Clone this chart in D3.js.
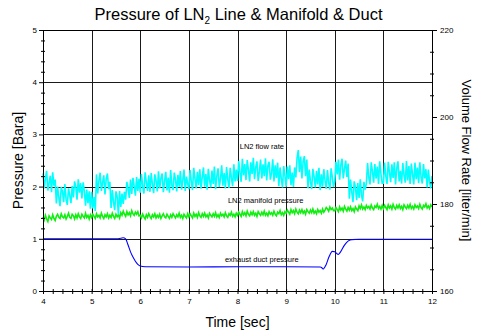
<!DOCTYPE html>
<html>
<head>
<meta charset="utf-8">
<script src="https://cdn.jsdelivr.net/npm/d3@7"></script>
<style>
  body { margin: 0; background: #fff; }
  svg text { font-family: "Liberation Sans", Arial, sans-serif; fill: #000; }
</style>
</head>
<body>
<div id="chart"></div>
<script>
(function () {
  // time axis: samples every 0.025 s from 4 to 12 s
  const T0 = 4;
  const DT = 0.025;

  // LN2 flow rate [liter/min], right axis
  const flowRate = [
    187.0, 183.6, 185.9, 187.6, 183.1, 184.8, 186.5, 182.7, 187.3, 184.2, 185.6,
    180.1, 184.0, 181.6, 179.5, 183.9, 182.9, 180.4, 184.6, 181.0, 179.8, 183.6, 182.0, 180.2, 184.1,
    181.5, 185.2, 183.9, 181.0, 185.7, 182.6, 184.8, 181.3, 185.0, 183.0,
    179.6, 183.3, 180.2, 182.9, 178.9,
    // 5 s
    182.8, 179.0, 181.6, 178.4,
    186.8, 182.4, 185.3, 187.2, 183.0, 184.9, 186.6, 182.2, 185.8, 187.0, 183.4, 185.1,
    179.1, 183.2, 180.5, 178.6, 182.9, 181.7, 177.6, 183.0, 179.3, 182.4, 180.0, 182.8,
    181.0, 185.1, 183.6, 181.4, 185.6, 182.3, 186.0, 184.1, 181.9, 186.2, 183.0, 185.8,
    // 6 s
    182.6, 186.9, 184.1, 182.4, 187.3, 185.0, 183.0, 186.6, 182.8, 187.1,
    184.6, 182.5, 186.8, 185.4, 182.9, 187.5, 183.6, 185.9, 187.0, 182.7,
    185.2, 187.4, 183.1, 186.1, 182.6, 187.8, 184.3, 183.2, 187.2, 185.6,
    182.9, 186.7, 184.0, 187.6, 183.3, 185.5, 187.9, 183.0, 186.3, 184.7,
    // 7 s
    183.4, 187.8, 185.1, 183.2, 188.3, 185.9, 183.6, 187.4, 184.3, 188.0,
    183.5, 186.2, 188.4, 184.0, 186.9, 183.3, 188.1, 185.4, 183.8, 187.7,
    184.6, 188.6, 183.4, 186.4, 188.2, 183.9, 185.8, 188.9, 184.2, 187.1,
    183.6, 188.5, 185.6, 183.7, 188.3, 186.0, 184.1, 189.1, 185.2, 187.9,
    // 8 s
    185.3, 189.9, 187.2, 185.1, 190.4, 186.6, 189.2, 185.5, 190.1, 187.8,
    185.2, 189.6, 186.9, 190.6, 185.7, 188.4, 189.8, 185.3, 187.5, 190.2,
    185.9, 189.1, 186.4, 190.5, 185.4, 188.8, 189.7, 185.6, 187.1, 190.3,
    185.2, 188.9, 186.0, 189.5,
    184.1, 188.4, 185.9, 183.8, 188.7, 186.5,
    // 9 s
    184.0, 188.6, 185.7, 188.9, 184.3, 187.2, 183.9, 188.4,
    186.1, 190.6, 192.4, 187.3, 190.9, 185.9, 189.8, 191.0, 186.4, 190.2,
    183.6, 187.9, 185.2, 183.4, 188.1, 186.3, 183.8, 187.6, 184.5, 188.3,
    183.2, 186.8, 184.0, 188.0, 185.4, 183.5, 187.8, 184.9, 183.3, 188.2, 186.1, 183.9,
    // 10 s
    185.3, 189.7, 186.8, 190.2, 185.6, 188.9, 190.4, 185.9, 188.1, 190.0, 186.2, 189.3,
    181.2, 185.6, 182.8, 180.4, 185.2, 183.9, 180.9, 184.8, 181.4, 185.7, 182.0, 180.6, 185.1, 183.3,
    184.7, 189.4, 186.2, 184.5, 189.6, 187.5, 184.9, 189.2, 185.8, 188.6, 184.6, 189.8, 186.9, 184.8,
    // 11 s
    184.8, 189.5, 186.4, 184.6, 189.7, 187.3, 185.0, 189.1, 186.0, 189.6,
    184.5, 188.2, 189.8, 185.2, 187.6, 184.7, 189.4, 186.6, 184.9, 189.9,
    185.4, 188.7, 184.6, 189.3, 186.8, 184.5, 189.5, 185.7, 188.4, 184.8,
    189.6, 186.2, 184.7, 189.2, 185.9, 188.0, 183.8, 187.9, 185.1, 183.6,
    // 12 s
    186.4,
  ];

  // LN2 manifold pressure [Bara], left axis
  const manifoldPressure = [
    1.42, 1.36, 1.45, 1.38, 1.33, 1.44, 1.40, 1.37, 1.46, 1.39, 1.35, 1.43,
    1.47, 1.41, 1.39, 1.48, 1.42, 1.40, 1.46, 1.38, 1.43, 1.49, 1.41, 1.39, 1.47, 1.44, 1.38, 1.46, 1.40, 1.48,
    1.42, 1.39, 1.47, 1.43, 1.40, 1.49, 1.41, 1.45, 1.38, 1.46,
    // 5 s
    1.41, 1.47, 1.43, 1.39, 1.48, 1.42, 1.45, 1.40, 1.49, 1.43,
    1.39, 1.46, 1.42, 1.48, 1.40, 1.45, 1.41, 1.49, 1.43, 1.39,
    1.47, 1.42, 1.46, 1.40,
    1.50, 1.45, 1.53, 1.47, 1.43, 1.52, 1.46, 1.50, 1.44, 1.54, 1.48, 1.45, 1.51, 1.47, 1.52, 1.44,
    // 6 s
    1.45, 1.40, 1.47, 1.42, 1.38, 1.46, 1.41, 1.48, 1.43, 1.39,
    1.46, 1.42, 1.48, 1.40, 1.45, 1.41, 1.47, 1.39, 1.44, 1.48,
    1.42, 1.40, 1.47, 1.43, 1.39, 1.46, 1.41, 1.48, 1.44, 1.40,
    1.46, 1.42, 1.49, 1.41, 1.45, 1.39, 1.47, 1.43, 1.40, 1.48,
    // 7 s
    1.42, 1.48, 1.44, 1.40, 1.49, 1.43, 1.47, 1.41, 1.50, 1.44,
    1.41, 1.48, 1.43, 1.49, 1.42, 1.46, 1.40, 1.49, 1.45, 1.42,
    1.48, 1.43, 1.50, 1.42, 1.46, 1.41, 1.49, 1.44, 1.47, 1.42,
    1.50, 1.44, 1.41, 1.48, 1.45, 1.51, 1.43, 1.47, 1.42, 1.49,
    // 8 s
    1.45, 1.51, 1.47, 1.43, 1.52, 1.46, 1.50, 1.44, 1.53, 1.47,
    1.44, 1.51, 1.46, 1.52, 1.45, 1.49, 1.43, 1.52, 1.48, 1.45,
    1.51, 1.46, 1.53, 1.45, 1.49, 1.44, 1.52, 1.47, 1.50, 1.45,
    1.53, 1.47, 1.44, 1.51, 1.48, 1.54, 1.46, 1.50, 1.45, 1.52,
    // 9 s
    1.49, 1.55, 1.51, 1.47, 1.56, 1.50, 1.54, 1.48, 1.57, 1.51,
    1.48, 1.55, 1.50, 1.56, 1.49, 1.53, 1.47, 1.56, 1.52, 1.49,
    1.55, 1.50, 1.57, 1.49, 1.53, 1.48, 1.56, 1.51, 1.54, 1.49, 1.57, 1.51,
    1.55, 1.60, 1.57, 1.53, 1.61, 1.56, 1.59, 1.54,
    // 10 s
    1.54, 1.60, 1.56, 1.52, 1.61, 1.55, 1.59, 1.53, 1.62, 1.57,
    1.53, 1.60, 1.55, 1.61, 1.54, 1.58, 1.52, 1.61, 1.57, 1.54,
    1.63, 1.58, 1.65, 1.57, 1.61, 1.56, 1.64, 1.59, 1.62, 1.57,
    1.65, 1.59, 1.56, 1.63, 1.60, 1.66, 1.58, 1.62, 1.57, 1.64,
    // 11 s
    1.58, 1.64, 1.60, 1.56, 1.65, 1.59, 1.63, 1.57, 1.66, 1.60,
    1.57, 1.64, 1.59, 1.65, 1.58, 1.62, 1.56, 1.65, 1.61, 1.58,
    1.64, 1.59, 1.66, 1.58, 1.62, 1.57, 1.65, 1.60, 1.63, 1.58,
    1.66, 1.60, 1.57, 1.64, 1.61, 1.67, 1.59, 1.63, 1.58, 1.65,
    // 12 s
    1.61,
  ];

  // exhaust duct pressure [Bara], left axis: [time, value]
  const ductPressure = [
    [4.0, 1.0], [5.5, 1.0], [5.6, 1.01], [5.65, 1.02], [5.7, 1.0],
    [5.75, 0.88], [5.8, 0.75], [5.85, 0.65], [5.9, 0.57], [5.95, 0.51],
    [6.0, 0.48], [6.1, 0.465], [7.0, 0.46], [8.0, 0.465], [9.0, 0.465],
    [9.7, 0.46], [9.74, 0.44], [9.76, 0.42], [9.82, 0.5], [9.88, 0.65],
    [9.95, 0.76], [10.0, 0.75], [10.04, 0.72], [10.07, 0.70], [10.12, 0.75],
    [10.2, 0.88], [10.28, 0.96], [10.35, 0.985], [10.5, 0.99], [12.0, 0.99],
  ];

  const xTicks = [4, 5, 6, 7, 8, 9, 10, 11, 12];
  const yLeftTicks = [0, 1, 2, 3, 4, 5];
  const yRightTicks = [160, 180, 200, 220];

  const labels = [
    { text: "LN2 flow rate", t: 8.5, v: 2.72 },
    { text: "LN2 manifold pressure", t: 8.58, v: 1.69 },
    { text: "exhaust duct pressure", t: 8.5, v: 0.56 },
  ];

  const W = 477;
  const H = 333;
  const margin = { top: 30, right: 45, bottom: 42, left: 43 };
  const width = W - margin.left - margin.right;
  const height = H - margin.top - margin.bottom;

  const svg = d3
    .select("#chart")
    .append("svg")
    .attr("width", W)
    .attr("height", H);

  const g = svg
    .append("g")
    .attr("transform", `translate(${margin.left}, ${margin.top})`);

  const x = d3.scaleLinear().domain([4, 12]).range([0, width]);
  const yL = d3.scaleLinear().domain([0, 5]).range([height, 0]);
  const yR = d3.scaleLinear().domain([160, 220]).range([height, 0]);

  // grid
  g.append("g")
    .selectAll("line")
    .data(xTicks)
    .join("line")
    .attr("x1", (d) => Math.round(x(d)) + 0.5)
    .attr("x2", (d) => Math.round(x(d)) + 0.5)
    .attr("y1", 0)
    .attr("y2", height)
    .style("stroke", "#1a1a1a")
    .style("stroke-width", 1);
  g.append("g")
    .selectAll("line")
    .data(yLeftTicks)
    .join("line")
    .attr("x1", 0)
    .attr("x2", width)
    .attr("y1", (d) => Math.round(yL(d)) + 0.5)
    .attr("y2", (d) => Math.round(yL(d)) + 0.5)
    .style("stroke", "#1a1a1a")
    .style("stroke-width", 1);

  // series
  const seriesT = (i) => T0 + i * DT;

  g.append("path")
    .datum(manifoldPressure)
    .attr("fill", "none")
    .attr("stroke", "#11ee11")
    .attr("stroke-width", 1.6)
    .attr(
      "d",
      d3
        .line()
        .x((d, i) => x(seriesT(i)))
        .y((d) => yL(d))
    );

  g.append("path")
    .datum(flowRate)
    .attr("fill", "none")
    .attr("stroke", "#00ffff")
    .attr("stroke-width", 1.6)
    .attr(
      "d",
      d3
        .line()
        .x((d, i) => x(seriesT(i)))
        .y((d) => yR(d))
    );

  g.append("path")
    .datum(ductPressure)
    .attr("fill", "none")
    .attr("stroke", "#0000ff")
    .attr("stroke-width", 1.1)
    .attr(
      "d",
      d3
        .line()
        .curve(d3.curveMonotoneX)
        .x((d) => x(d[0]))
        .y((d) => yL(d[1]))
    );

  // series labels
  g.selectAll("text.series-label")
    .data(labels)
    .join("text")
    .attr("class", "series-label")
    .attr("text-anchor", "middle")
    .attr("x", (d) => x(d.t))
    .attr("y", (d) => yL(d.v))
    .style("font-size", "7.5px")
    .text((d) => d.text);

  // axes
  function styleAxis(sel) {
    sel.select(".domain").style("stroke", "#000");
    sel.selectAll(".tick line").style("stroke", "#000");
    sel.selectAll(".tick text").style("font-size", "8px");
  }

  const isInt = (d) => Math.abs(d - Math.round(d)) < 1e-6;

  const xAxis = g
    .append("g")
    .attr("transform", `translate(0, ${height})`)
    .call(
      d3
        .axisBottom(x)
        .ticks(40)
        .tickSize(3)
        .tickSizeOuter(0)
        .tickFormat((d) => (isInt(d) ? Math.round(d) : ""))
    );
  styleAxis(xAxis);
  xAxis.selectAll(".tick text").attr("dy", "0.9em");
  xAxis.selectAll(".tick line").attr("y1", -2).attr("y2", 3);

  const yAxisL = g.append("g").call(
    d3
      .axisLeft(yL)
      .ticks(25)
      .tickSize(3)
      .tickSizeOuter(0)
      .tickFormat((d) => (isInt(d) ? Math.round(d) : ""))
  );
  styleAxis(yAxisL);
  yAxisL
    .selectAll(".tick line")
    .attr("x1", (d) => (isInt(d) ? 0 : 2))
    .attr("x2", (d) => (isInt(d) ? -4 : -2));

  const yAxisR = g
    .append("g")
    .attr("transform", `translate(${width}, 0)`)
    .call(
      d3
        .axisRight(yR)
        .ticks(12)
        .tickSize(3)
        .tickSizeOuter(0)
        .tickFormat((d) => (yRightTicks.includes(d) ? d : ""))
    );
  styleAxis(yAxisR);
  yAxisR
    .selectAll(".tick line")
    .attr("x1", (d) => (yRightTicks.includes(d) ? 0 : -2))
    .attr("x2", (d) => (yRightTicks.includes(d) ? 5 : 2));
  yAxisR.selectAll(".tick text").attr("x", 8);

  // top border
  g.append("line")
    .attr("x1", 0)
    .attr("x2", width)
    .attr("y1", 0.5)
    .attr("y2", 0.5)
    .style("stroke", "#000");

  // title with subscript
  const title = svg
    .append("text")
    .attr("x", W / 2)
    .attr("y", 20)
    .attr("text-anchor", "middle")
    .style("font-size", "16.5px");
  title.append("tspan").text("Pressure of LN");
  title
    .append("tspan")
    .attr("dy", 4)
    .style("font-size", "10px")
    .text("2");
  title.append("tspan").attr("dy", -4).text(" Line & Manifold & Duct");

  // axis labels
  svg
    .append("text")
    .attr("text-anchor", "middle")
    .attr("x", margin.left + width / 2)
    .attr("y", 327)
    .style("font-size", "14px")
    .text("Time [sec]");

  svg
    .append("text")
    .attr("text-anchor", "middle")
    .attr("transform", `translate(23, ${margin.top + height / 2}) rotate(-90)`)
    .style("font-size", "14px")
    .text("Pressure [Bara]");

  svg
    .append("text")
    .attr("text-anchor", "middle")
    .attr("transform", `translate(462, ${margin.top + height / 2}) rotate(90)`)
    .style("font-size", "13px")
    .text("Volume Flow Rate [liter/min]");
})();
</script>
</body>
</html>
